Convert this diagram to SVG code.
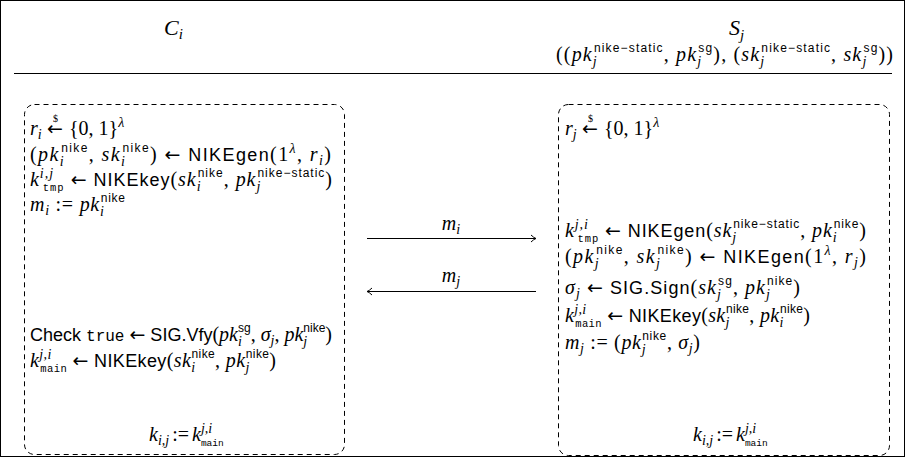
<svg xmlns="http://www.w3.org/2000/svg" width="906" height="473" viewBox="0 0 906 473">
<style>
text { font-family: "Liberation Serif", serif; font-size: 20px; fill: #000; }
.i { font-style: italic; }
.sf { font-family: "Liberation Sans", sans-serif; font-size: 18px; }
.tt { font-family: "Liberation Mono", monospace; font-size: 16px; }
.ar { font-family: "DejaVu Sans", sans-serif; font-size: 19px; }
.sc { font-size: 14px; }
.ss { font-size: 10px; }
.scs { font-family: "Liberation Sans", sans-serif; font-size: 12px; }
.stt { font-family: "Liberation Mono", monospace; font-size: 10.5px; }
.stt2 { font-family: "Liberation Mono", monospace; font-size: 9.5px; }
.box { fill: none; stroke: #000; stroke-width: 1; stroke-dasharray: 5 4; }
.edge { stroke: #000; stroke-width: 1; fill: none; }
.hdr { font-size: 22px; }
</style>
<defs>
<marker id="ah" markerUnits="userSpaceOnUse" markerWidth="12" markerHeight="12" refX="0" refY="0" viewBox="-8 -6 10 12" orient="auto">
<path d="M -5 -3.5 Q -2 -0.6 0 0 Q -2 0.6 -5 3.5" fill="none" stroke="#000" stroke-width="1"/>
</marker>
</defs>
<rect x="0.5" y="0.5" width="904" height="456" fill="#fff" stroke="#000" stroke-width="1"/>
<g id="header">
<text class="hdr i" x="164" y="35">C<tspan font-size="15" dy="4">i</tspan></text>
<text class="hdr i" x="729" y="35">S<tspan font-size="15" dy="5">j</tspan></text>
<text x="556" y="61" textLength="337" lengthAdjust="spacing">((<tspan class="i">pk</tspan><tspan class="i sc" dy="5">j</tspan><tspan class="scs" dx="-3.9" dy="-14">nike−static</tspan><tspan dy="9">, </tspan><tspan class="i">pk</tspan><tspan class="i sc" dy="5">j</tspan><tspan class="scs" dx="-3.9" dy="-14">sg</tspan><tspan dy="9">), (</tspan><tspan class="i">sk</tspan><tspan class="i sc" dy="5">j</tspan><tspan class="scs" dx="-3.9" dy="-14">nike−static</tspan><tspan dy="9">, </tspan><tspan class="i">sk</tspan><tspan class="i sc" dy="5">j</tspan><tspan class="scs" dx="-3.9" dy="-14">sg</tspan><tspan dy="9">))</tspan></text>
<line x1="14" y1="73.5" x2="892" y2="73.5" stroke="#000" stroke-width="1.2"/>
</g>
<g id="client">
<rect class="box" x="24.5" y="104.5" width="320" height="350" rx="10"/>
<text x="30" y="135"><tspan class="i">r</tspan><tspan class="i sc" dy="4">i</tspan><tspan class="ar" x="47" dy="-4">←</tspan><tspan class="ss" x="53" dy="-13">$</tspan><tspan x="69" dy="13">{0, 1}</tspan><tspan class="i sc" dy="-8">λ</tspan></text>
<text x="30" y="161" textLength="301" lengthAdjust="spacing">(<tspan class="i">pk</tspan><tspan class="i sc" dy="5">i</tspan><tspan class="scs" dx="-3.9" dy="-14">nike</tspan><tspan dy="9">, </tspan><tspan class="i">sk</tspan><tspan class="i sc" dy="5">i</tspan><tspan class="scs" dx="-3.9" dy="-14">nike</tspan><tspan dy="9">) </tspan><tspan class="ar">←</tspan> <tspan class="sf">NIKEgen</tspan>(1<tspan class="i sc" dy="-8">λ</tspan><tspan dy="8">, </tspan><tspan class="i">r</tspan><tspan class="i sc" dy="4">i</tspan><tspan dy="-4">)</tspan></text>
<text x="30" y="186" textLength="302" lengthAdjust="spacing"><tspan class="i">k</tspan><tspan class="i sc" dy="-8">i,j</tspan><tspan class="stt" dx="-11.3" dy="13">tmp</tspan><tspan dy="-5"> </tspan><tspan class="ar">←</tspan> <tspan class="sf">NIKEkey</tspan>(<tspan class="i">sk</tspan><tspan class="i sc" dy="5">i</tspan><tspan class="scs" dx="-3.9" dy="-14">nike</tspan><tspan dy="9">, </tspan><tspan class="i">pk</tspan><tspan class="i sc" dy="5">j</tspan><tspan class="scs" dx="-3.9" dy="-14">nike−static</tspan><tspan dy="9">)</tspan></text>
<text x="30" y="211" textLength="95" lengthAdjust="spacing"><tspan class="i">m</tspan><tspan class="i sc" dy="4">i</tspan><tspan dy="-4"> := </tspan><tspan class="i">pk</tspan><tspan class="i sc" dy="5">i</tspan><tspan class="scs" dx="-3.9" dy="-14">nike</tspan></text>
<text x="30" y="341" textLength="302" lengthAdjust="spacing"><tspan class="sf">Check </tspan><tspan class="tt">true</tspan> <tspan class="ar">←</tspan> <tspan class="sf">SIG.Vfy</tspan>(<tspan class="i">pk</tspan><tspan class="i sc" dy="5">i</tspan><tspan class="scs" dx="-3.9" dy="-14">sg</tspan><tspan dy="9">, </tspan><tspan class="i">σ</tspan><tspan class="i sc" dy="4">j</tspan><tspan dy="-4">, </tspan><tspan class="i">pk</tspan><tspan class="i sc" dy="5">j</tspan><tspan class="scs" dx="-3.9" dy="-14">nike</tspan><tspan dy="9">)</tspan></text>
<text x="30" y="367" textLength="246" lengthAdjust="spacing"><tspan class="i">k</tspan><tspan class="i sc" dy="-8">j,i</tspan><tspan class="stt" dx="-11.3" dy="13">main</tspan><tspan dy="-5"> </tspan><tspan class="ar">←</tspan> <tspan class="sf">NIKEkey</tspan>(<tspan class="i">sk</tspan><tspan class="i sc" dy="5">i</tspan><tspan class="scs" dx="-3.9" dy="-14">nike</tspan><tspan dy="9">, </tspan><tspan class="i">pk</tspan><tspan class="i sc" dy="5">j</tspan><tspan class="scs" dx="-3.9" dy="-14">nike</tspan><tspan dy="9">)</tspan></text>
<text x="149" y="441"><tspan class="i">k</tspan><tspan class="i sc" dy="4">i,j</tspan><tspan dy="-4" dx="3">:=</tspan><tspan class="i" dx="3">k</tspan><tspan class="i sc" dy="-8">j,i</tspan><tspan class="stt2" dx="-11.3" dy="13">main</tspan></text>
</g>
<g id="server">
<rect class="box" x="558.5" y="104.5" width="331" height="351" rx="10"/>
<text x="565" y="135"><tspan class="i">r</tspan><tspan class="i sc" dy="4">j</tspan><tspan class="ar" x="582" dy="-4">←</tspan><tspan class="ss" x="588" dy="-13">$</tspan><tspan x="604" dy="13">{0, 1}</tspan><tspan class="i sc" dy="-8">λ</tspan></text>
<text x="565" y="237" textLength="301" lengthAdjust="spacing"><tspan class="i">k</tspan><tspan class="i sc" dy="-8">j,i</tspan><tspan class="stt" dx="-11.3" dy="13">tmp</tspan><tspan dy="-5"> </tspan><tspan class="ar">←</tspan> <tspan class="sf">NIKEgen</tspan>(<tspan class="i">sk</tspan><tspan class="i sc" dy="5">j</tspan><tspan class="scs" dx="-3.9" dy="-14">nike−static</tspan><tspan dy="9">, </tspan><tspan class="i">pk</tspan><tspan class="i sc" dy="5">i</tspan><tspan class="scs" dx="-3.9" dy="-14">nike</tspan><tspan dy="9">)</tspan></text>
<text x="565" y="263" textLength="301" lengthAdjust="spacing">(<tspan class="i">pk</tspan><tspan class="i sc" dy="5">j</tspan><tspan class="scs" dx="-3.9" dy="-14">nike</tspan><tspan dy="9">, </tspan><tspan class="i">sk</tspan><tspan class="i sc" dy="5">j</tspan><tspan class="scs" dx="-3.9" dy="-14">nike</tspan><tspan dy="9">) </tspan><tspan class="ar">←</tspan> <tspan class="sf">NIKEgen</tspan>(1<tspan class="i sc" dy="-8">λ</tspan><tspan dy="8">, </tspan><tspan class="i">r</tspan><tspan class="i sc" dy="4">j</tspan><tspan dy="-4">)</tspan></text>
<text x="565" y="294" textLength="235" lengthAdjust="spacing"><tspan class="i">σ</tspan><tspan class="i sc" dy="4">j</tspan><tspan dy="-4"> </tspan><tspan class="ar">←</tspan> <tspan class="sf">SIG.Sign</tspan>(<tspan class="i">sk</tspan><tspan class="i sc" dy="5">j</tspan><tspan class="scs" dx="-3.9" dy="-14">sg</tspan><tspan dy="9">, </tspan><tspan class="i">pk</tspan><tspan class="i sc" dy="5">j</tspan><tspan class="scs" dx="-3.9" dy="-14">nike</tspan><tspan dy="9">)</tspan></text>
<text x="565" y="322" textLength="245" lengthAdjust="spacing"><tspan class="i">k</tspan><tspan class="i sc" dy="-8">j,i</tspan><tspan class="stt" dx="-11.3" dy="13">main</tspan><tspan dy="-5"> </tspan><tspan class="ar">←</tspan> <tspan class="sf">NIKEkey</tspan>(<tspan class="i">sk</tspan><tspan class="i sc" dy="5">j</tspan><tspan class="scs" dx="-3.9" dy="-14">nike</tspan><tspan dy="9">, </tspan><tspan class="i">pk</tspan><tspan class="i sc" dy="5">i</tspan><tspan class="scs" dx="-3.9" dy="-14">nike</tspan><tspan dy="9">)</tspan></text>
<text x="565" y="349" textLength="135" lengthAdjust="spacing"><tspan class="i">m</tspan><tspan class="i sc" dy="4">j</tspan><tspan dy="-4"> := (</tspan><tspan class="i">pk</tspan><tspan class="i sc" dy="5">j</tspan><tspan class="scs" dx="-3.9" dy="-14">nike</tspan><tspan dy="9">, </tspan><tspan class="i">σ</tspan><tspan class="i sc" dy="4">j</tspan><tspan dy="-4">)</tspan></text>
<text x="693" y="441"><tspan class="i">k</tspan><tspan class="i sc" dy="4">i,j</tspan><tspan dy="-4" dx="3">:=</tspan><tspan class="i" dx="3">k</tspan><tspan class="i sc" dy="-8">j,i</tspan><tspan class="stt2" dx="-11.3" dy="13">main</tspan></text>
</g>
<g id="connectors">
<line class="edge" x1="367" y1="238.5" x2="536" y2="238.5" marker-end="url(#ah)"/>
<text class="i" x="451" y="230" text-anchor="middle">m<tspan class="sc" dy="4">i</tspan></text>
<line class="edge" x1="536" y1="291.5" x2="367" y2="291.5" marker-end="url(#ah)"/>
<text class="i" x="451" y="282" text-anchor="middle">m<tspan class="sc" dy="4">j</tspan></text>
</g>
</svg>
